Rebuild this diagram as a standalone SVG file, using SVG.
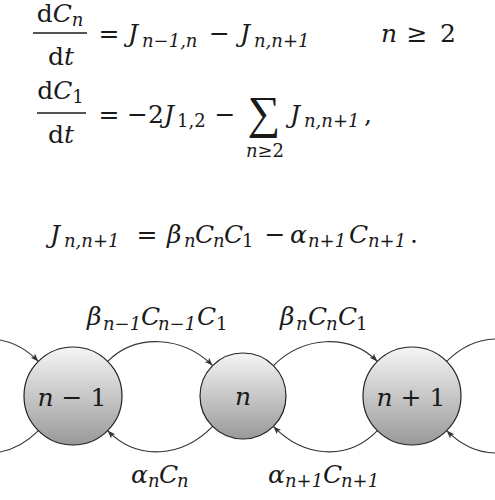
<svg xmlns="http://www.w3.org/2000/svg" width="495" height="500" viewBox="0 0 495 500">
<style>
text{font-family:"DejaVu Serif","Liberation Serif",serif;font-size:25px;fill:#1a1a1a}
.i{font-style:italic}
.s{font-size:18px;font-style:italic}
.su{font-size:18px}
.op{font-family:"Liberation Serif","DejaVu Serif",serif}
.node{fill:url(#g);stroke:#222;stroke-width:1.2}
.edge{fill:none;stroke:#333;stroke-width:1.1}
.bar{stroke:#1a1a1a;stroke-width:1.3}
</style>
<defs>
<linearGradient id="g" x1="0" y1="0" x2="0" y2="1">
<stop offset="0" stop-color="#f5f5f5"/>
<stop offset="1" stop-color="#999999"/>
</linearGradient>
<marker id="ah" markerUnits="userSpaceOnUse" markerWidth="9" markerHeight="7" refX="8" refY="3" orient="auto">
<path d="M0,0 L8,3 L0,6 L1.8,3 z" fill="#333"/>
</marker>
</defs>

<g id="equations">
<!-- row 1 -->
<text x="60" y="22" text-anchor="middle">d<tspan class="i">C</tspan><tspan class="s" dy="4">n</tspan></text>
<line class="bar" x1="33" y1="33" x2="87" y2="33"/>
<text x="61" y="65" text-anchor="middle">d<tspan class="i">t</tspan></text>
<text x="109" y="42" text-anchor="middle">=</text>
<text class="i" x="128" y="42">J</text>
<text class="s" x="142" y="47">n−1,n</text>
<text x="219.5" y="42" text-anchor="middle">−</text>
<text class="i" x="240" y="42">J</text>
<text class="s" x="254" y="47">n,n+1</text>
<text class="i" x="381" y="42">n</text>
<text x="417" y="42" text-anchor="middle">≥</text>
<text x="440" y="42">2</text>

<!-- row 2 -->
<text x="60.5" y="99" text-anchor="middle">d<tspan class="i">C</tspan><tspan class="su" dy="4">1</tspan></text>
<line class="bar" x1="37" y1="113" x2="86" y2="113"/>
<text x="61" y="143" text-anchor="middle">d<tspan class="i">t</tspan></text>
<text x="109" y="123" text-anchor="middle">=</text>
<text x="137.5" y="123" text-anchor="middle">−</text>
<text x="148" y="123">2</text>
<text class="i" x="164" y="123">J</text>
<text class="su" x="177" y="127">1,2</text>
<text x="225" y="123" text-anchor="middle">−</text>
<text class="op" x="264" y="128" text-anchor="middle" style="font-size:46px">∑</text>
<text x="265" y="157" text-anchor="middle" class="su"><tspan class="i">n</tspan>≥2</text>
<text class="i" x="290" y="123">J</text>
<text class="s" x="304" y="127">n,n+1</text>
<text x="364" y="123">,</text>

<!-- row 3 -->
<text class="i" x="50" y="243">J</text>
<text class="s" x="64" y="247">n,n+1</text>
<text x="147" y="243" text-anchor="middle">=</text>
<text class="i" x="167" y="243">β</text>
<text class="s" x="184" y="247">n</text>
<text class="i" x="195" y="243">C</text>
<text class="s" x="213" y="247">n</text>
<text class="i" x="224" y="243">C</text>
<text class="su" x="242" y="247">1</text>
<text x="275" y="243" text-anchor="middle">−</text>
<text class="i" x="290" y="243">α</text>
<text class="s" x="308" y="247">n+1</text>
<text class="i" x="349" y="243">C</text>
<text class="s" x="368" y="247">n+1</text>
<text x="410" y="243">.</text>
</g>

<g id="connectors">
<path class="edge" marker-end="url(#ah)" d="M-62.4,361.4 C-33.4,331.4 9.4,331.4 38.4,361.4"/>
<path class="edge" d="M38.4,430.6 C8.4,460.6 -32.4,460.6 -62.4,430.6"/>
<path class="edge" marker-end="url(#ah)" d="M107.6,361.4 C136.6,332.4 183.6,336.6 212.6,365.6"/>
<path class="edge" marker-end="url(#ah)" d="M212.6,426.4 C182.6,457.4 137.6,461.6 107.6,430.6"/>
<path class="edge" marker-end="url(#ah)" d="M273.4,365.6 C302.4,336.6 348.4,332.4 377.4,361.4"/>
<path class="edge" marker-end="url(#ah)" d="M377.4,430.6 C347.4,461.6 303.4,457.4 273.4,426.4"/>
<path class="edge" d="M446.6,361.4 C476.6,331.4 517.4,331.4 547.4,361.4"/>
<path class="edge" marker-end="url(#ah)" d="M547.4,430.6 C517.4,460.6 476.6,460.6 446.6,430.6"/>
<text class="i" x="87" y="325">β</text>
<text class="s" x="103" y="330">n−1</text>
<text class="i" x="141" y="325">C</text>
<text class="s" x="158" y="330">n−1</text>
<text class="i" x="197" y="325">C</text>
<text class="su" x="216" y="330">1</text>
<text class="i" x="280" y="325">β</text>
<text class="s" x="296" y="330">n</text>
<text class="i" x="308" y="325">C</text>
<text class="s" x="326" y="330">n</text>
<text class="i" x="338" y="325">C</text>
<text class="su" x="356" y="330">1</text>
<text class="i" x="131" y="483">α</text>
<text class="s" x="148" y="487">n</text>
<text class="i" x="159" y="483">C</text>
<text class="s" x="177" y="487">n</text>
<text class="i" x="268" y="483">α</text>
<text class="s" x="285" y="487">n+1</text>
<text class="i" x="323" y="483">C</text>
<text class="s" x="341" y="487">n+1</text>
</g>

<g id="node-n-minus-1">
<circle class="node" cx="73" cy="396" r="49"/>
<text x="72" y="406" text-anchor="middle"><tspan class="i">n</tspan> − 1</text>
</g>
<g id="node-n">
<circle class="node" cx="243" cy="396" r="43"/>
<text class="i" x="243" y="405" text-anchor="middle">n</text>
</g>
<g id="node-n-plus-1">
<circle class="node" cx="412" cy="396" r="49"/>
<text x="411" y="406" text-anchor="middle"><tspan class="i">n</tspan> + 1</text>
</g>
</svg>
